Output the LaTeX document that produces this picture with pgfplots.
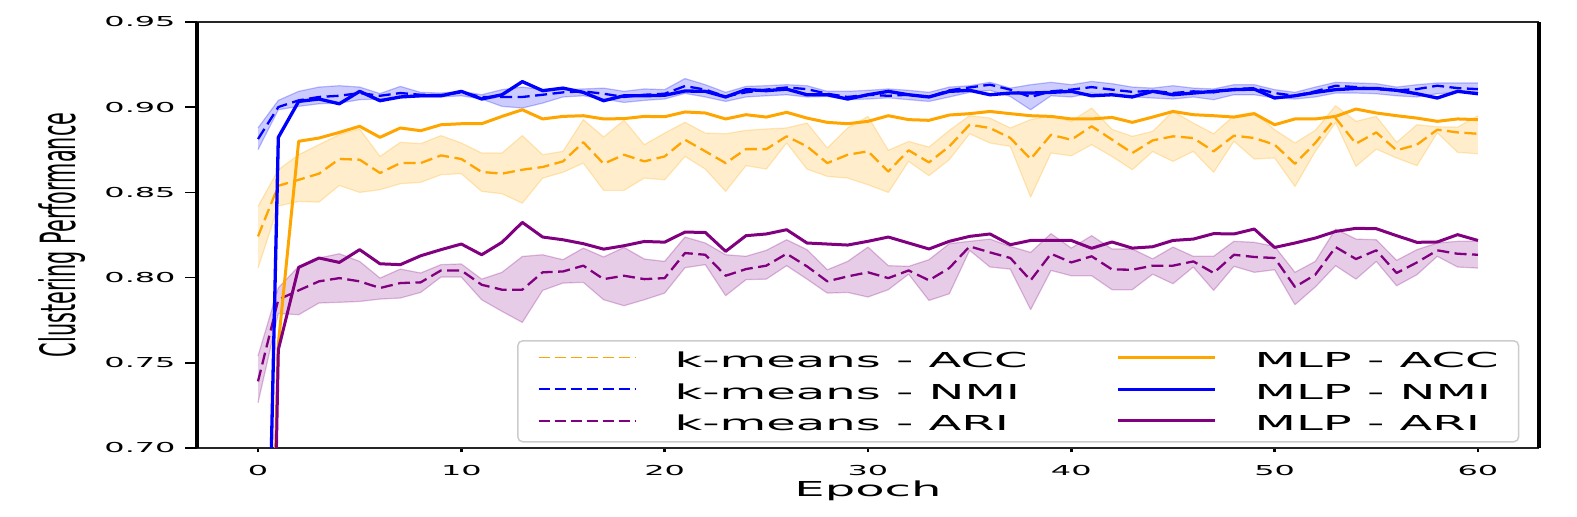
\documentclass[border=0pt]{standalone}
\usepackage{fontspec}
\setmainfont{DejaVu Sans}
\newfontfamily\wfont{DejaVu Sans}[FakeStretch=2.33]
\newfontfamily\ylabfont{DejaVu Sans}[FakeStretch=0.429]
\usepackage{pgfplots}
\usepackage{pgfplotstable}
\pgfplotsset{compat=1.18}
\usepgfplotslibrary{fillbetween}
\definecolor{mplorange}{HTML}{FFA500}
\definecolor{mplblue}{HTML}{0000FF}
\definecolor{mplpurple}{HTML}{800080}

\pgfplotstableread{
e km up lo mlp
0 0.8242 0.8418 0.8056 0.30
1 0.8539 0.8633 0.8420 0.761
2 0.8574 0.8721 0.8447 0.8800
3 0.8610 0.8780 0.8443 0.8819
4 0.8696 0.8839 0.8541 0.8852
5 0.8692 0.8872 0.8500 0.8888
6 0.8614 0.8711 0.8516 0.8823
7 0.8672 0.8794 0.8551 0.8878
8 0.8672 0.8786 0.8559 0.8862
9 0.8717 0.8833 0.8604 0.8897
10 0.8696 0.8790 0.8610 0.8903
11 0.8620 0.8731 0.8506 0.8903
12 0.8610 0.8731 0.8492 0.8946
13 0.8633 0.8833 0.8437 0.8985
14 0.8649 0.8721 0.8584 0.8931
15 0.8682 0.8741 0.8618 0.8946
16 0.8794 0.8927 0.8672 0.8950
17 0.8668 0.8825 0.8512 0.8931
18 0.8721 0.8923 0.8512 0.8933
19 0.8682 0.8780 0.8584 0.8946
20 0.8711 0.8848 0.8574 0.8944
21 0.8809 0.8911 0.8711 0.8972
22 0.8741 0.8848 0.8637 0.8966
23 0.8672 0.8844 0.8506 0.8931
24 0.8754 0.8864 0.8657 0.8956
25 0.8754 0.8872 0.8637 0.8942
26 0.8829 0.8878 0.8790 0.8970
27 0.8770 0.8907 0.8637 0.8936
28 0.8672 0.8760 0.8594 0.8911
29 0.8721 0.8878 0.8584 0.8903
30 0.8741 0.8946 0.8545 0.8917
31 0.8623 0.8747 0.8500 0.8950
32 0.8747 0.8799 0.8682 0.8927
33 0.8676 0.8766 0.8598 0.8923
34 0.8770 0.8864 0.8692 0.8954
35 0.8897 0.8950 0.8844 0.8962
36 0.8878 0.8936 0.8790 0.8975
37 0.8819 0.8878 0.8770 0.8962
38 0.8696 0.8927 0.8473 0.8950
39 0.8838 0.8950 0.8731 0.8946
40 0.8809 0.8917 0.8715 0.8931
41 0.8888 0.8995 0.8780 0.8931
42 0.8810 0.8870 0.8711 0.8940
43 0.8731 0.8829 0.8633 0.8911
44 0.8805 0.8858 0.8740 0.8942
45 0.8829 0.8975 0.8682 0.8975
46 0.8819 0.8907 0.8741 0.8956
47 0.8741 0.8844 0.8618 0.8950
48 0.8833 0.8950 0.8800 0.8942
49 0.8819 0.8970 0.8696 0.8962
50 0.8780 0.8868 0.8702 0.8897
51 0.8668 0.8790 0.8535 0.8931
52 0.8790 0.8864 0.8740 0.8931
53 0.8936 0.9009 0.8910 0.8946
54 0.8786 0.8917 0.8653 0.8989
55 0.8852 0.8946 0.8754 0.8966
56 0.8747 0.8794 0.8702 0.8950
57 0.8780 0.8897 0.8657 0.8936
58 0.8868 0.8885 0.8850 0.8917
59 0.8852 0.8883 0.8735 0.8931
60 0.8844 0.8950 0.8727 0.8927
}\acc

\pgfplotstableread{
e km up lo mlp
0 0.8813 0.8878 0.8751 0.347
1 0.9001 0.9040 0.8985 0.8823
2 0.9040 0.9093 0.9005 0.9034
3 0.9060 0.9118 0.9020 0.9048
4 0.9067 0.9126 0.9024 0.9020
5 0.9083 0.9118 0.9044 0.9093
6 0.9067 0.9080 0.9048 0.9038
7 0.9083 0.9122 0.9060 0.9060
8 0.9073 0.9087 0.9060 0.9067
9 0.9071 0.9083 0.9060 0.9067
10 0.9087 0.9093 0.9067 0.9093
11 0.9060 0.9073 0.9048 0.9048
12 0.9060 0.9103 0.9005 0.9073
13 0.9060 0.9118 0.8995 0.9150
14 0.9073 0.9103 0.9024 0.9097
15 0.9087 0.9103 0.9060 0.9112
16 0.9093 0.9107 0.9067 0.9087
17 0.9079 0.9112 0.9048 0.9038
18 0.9060 0.9093 0.9028 0.9067
19 0.9073 0.9107 0.9040 0.9067
20 0.9079 0.9103 0.9048 0.9070
21 0.9124 0.9168 0.9081 0.9095
22 0.9103 0.9132 0.9060 0.9093
23 0.9063 0.9087 0.9034 0.9060
24 0.9087 0.9122 0.9060 0.9103
25 0.9103 0.9126 0.9067 0.9097
26 0.9116 0.9132 0.9073 0.9106
27 0.9106 0.9126 0.9060 0.9073
28 0.9079 0.9093 0.9063 0.9073
29 0.9060 0.9093 0.9044 0.9048
30 0.9073 0.9099 0.9048 0.9073
31 0.9067 0.9107 0.9055 0.9093
32 0.9073 0.9099 0.9044 0.9073
33 0.9060 0.9087 0.9034 0.9060
34 0.9099 0.9118 0.9060 0.9093
35 0.9116 0.9126 0.9087 0.9099
36 0.9132 0.9146 0.9099 0.9073
37 0.9103 0.9112 0.9063 0.9083
38 0.9060 0.9132 0.8985 0.9083
39 0.9093 0.9146 0.9067 0.9087
40 0.9103 0.9132 0.9060 0.9093
41 0.9118 0.9151 0.9083 0.9067
42 0.9103 0.9138 0.9067 0.9073
43 0.9090 0.9118 0.9060 0.9060
44 0.9096 0.9112 0.9054 0.9093
45 0.9083 0.9126 0.9048 0.9073
46 0.9093 0.9112 0.9060 0.9083
47 0.9087 0.9107 0.9044 0.9093
48 0.9106 0.9132 0.9073 0.9103
49 0.9112 0.9132 0.9073 0.9106
50 0.9083 0.9103 0.9054 0.9054
51 0.9067 0.9087 0.9048 0.9067
52 0.9093 0.9118 0.9060 0.9087
53 0.9126 0.9146 0.9083 0.9103
54 0.9118 0.9142 0.9083 0.9110
55 0.9106 0.9138 0.9079 0.9110
56 0.9099 0.9118 0.9067 0.9099
57 0.9106 0.9132 0.9060 0.9079
58 0.9126 0.9142 0.9079 0.9054
59 0.9112 0.9142 0.9087 0.9093
60 0.9106 0.9142 0.9093 0.9079
}\nmi

\pgfplotstableread{
e km up lo mlp
0 0.7391 0.7540 0.7265 0.15
1 0.7871 0.7940 0.7790 0.7577
2 0.7925 0.8066 0.7782 0.8060
3 0.7978 0.8115 0.7851 0.8115
4 0.7997 0.8140 0.7855 0.8089
5 0.7978 0.8095 0.7860 0.8164
6 0.7939 0.7997 0.7874 0.8081
7 0.7968 0.8050 0.7880 0.8076
8 0.7972 0.8027 0.7913 0.8128
9 0.8042 0.8076 0.8003 0.8164
10 0.8042 0.8080 0.8003 0.8197
11 0.7958 0.7991 0.7870 0.8134
12 0.7929 0.8031 0.7802 0.8207
13 0.7929 0.8124 0.7737 0.8324
14 0.8031 0.8134 0.7925 0.8238
15 0.8036 0.8105 0.7968 0.8222
16 0.8070 0.8173 0.7972 0.8199
17 0.7991 0.8121 0.7870 0.8167
18 0.8011 0.8177 0.7835 0.8187
19 0.7991 0.8109 0.7870 0.8212
20 0.7997 0.8095 0.7909 0.8208
21 0.8144 0.8238 0.8058 0.8267
22 0.8134 0.8203 0.8076 0.8265
23 0.8011 0.8134 0.7894 0.8154
24 0.8050 0.8125 0.7988 0.8246
25 0.8070 0.8160 0.7991 0.8256
26 0.8140 0.8222 0.8070 0.8281
27 0.8066 0.8164 0.7991 0.8203
28 0.7978 0.8046 0.7909 0.8197
29 0.8007 0.8095 0.7913 0.8191
30 0.8031 0.8179 0.7886 0.8213
31 0.7997 0.8070 0.7929 0.8238
32 0.8042 0.8066 0.8020 0.8203
33 0.7984 0.8105 0.7866 0.8168
34 0.8056 0.8199 0.7905 0.8213
35 0.8183 0.8213 0.8160 0.8242
36 0.8148 0.8226 0.8062 0.8256
37 0.8115 0.8183 0.8050 0.8193
38 0.7984 0.8148 0.7812 0.8218
39 0.8140 0.8258 0.8042 0.8218
40 0.8089 0.8173 0.8011 0.8218
41 0.8125 0.8246 0.8011 0.8172
42 0.8048 0.8168 0.7929 0.8209
43 0.8046 0.8168 0.7929 0.8173
44 0.8070 0.8110 0.8020 0.8181
45 0.8070 0.8179 0.7964 0.8218
46 0.8095 0.8125 0.8062 0.8226
47 0.8027 0.8125 0.7925 0.8258
48 0.8134 0.8213 0.8066 0.8256
49 0.8121 0.8207 0.8031 0.8285
50 0.8115 0.8183 0.8046 0.8177
51 0.7945 0.8031 0.7841 0.8203
52 0.8017 0.8095 0.7945 0.8232
53 0.8179 0.8285 0.8070 0.8271
54 0.8109 0.8226 0.7991 0.8289
55 0.8160 0.8222 0.8095 0.8287
56 0.8027 0.8101 0.7952 0.8246
57 0.8089 0.8164 0.8017 0.8207
58 0.8160 0.8203 0.8125 0.8209
59 0.8140 0.8213 0.8062 0.8252
60 0.8134 0.8213 0.8056 0.8218
}\ari

\begin{document}
\begin{tikzpicture}
\path (0,0) rectangle (1577bp,517bp);
\begin{axis}[
  at={(197bp,69bp)}, anchor=south west,
  scale only axis, width=1342bp, height=426bp,
  xmin=-3, xmax=63, ymin=0.70, ymax=0.95,
  xtick={0,10,20,30,40,50,60},
  ytick={0.70,0.75,0.80,0.85,0.90,0.95},
  xtick pos=bottom, ytick pos=left,
  tick align=outside,
  minor tick num=0,
  separate axis lines,
  x axis line style={line width=1.8bp, black!85},
  y axis line style={line width=3.6bp, black},
  xtick style={line width=2.6bp, black, /pgfplots/major tick length=4.5bp},
  ytick style={line width=1.6bp, black, /pgfplots/major tick length=12bp},
  /pgf/number format/assume math mode=true,
  tick label style={font=\wfont\fontsize{13.7bp}{16bp}\selectfont},
  yticklabel style={/pgf/number format/.cd, fixed, fixed zerofill, precision=2, /tikz/.cd, anchor=east, inner sep=0pt, xshift=-17bp},
  xticklabel style={anchor=north, inner sep=0pt, yshift=-12.5bp},
  xlabel={Epoch},
  xlabel style={font=\wfont\fontsize{20.6bp}{24bp}\selectfont, at={(axis description cs:0.5,0)}, anchor=base, yshift=-48bp},
  ylabel={Clustering Performance},
  ylabel style={font=\ylabfont\fontsize{48.5bp}{50bp}\selectfont, at={(axis description cs:-0.0909,0.5)}, anchor=base},
  legend columns=2,
  legend cell align=left,
  legend style={at={(axis description cs:0.2385,0.2535)}, anchor=north west,
    draw={rgb,1:red,0.8;green,0.8;blue,0.8}, line width=1.5bp, rounded corners=5bp,
    fill=white, fill opacity=0.8, text opacity=1,
    inner xsep=20bp, inner ysep=11bp, row sep=16bp,
    font=\wfont\fontsize{20.6bp}{24bp}\selectfont,
    nodes={inner sep=0pt, text height=15.7bp, text depth=0bp},
    /tikz/every odd column/.append style={column sep=38bp},
    /tikz/column 2/.append style={column sep=89bp}},
  legend image code/.code={\draw[#1] (0bp,2.1bp) -- (97bp,2.1bp);},
  every axis plot/.append style={line join=round},
]
% ACC band and k-means mean
\addplot[name path=au, draw=mplorange, draw opacity=0.25, line width=1.2bp, forget plot] table[x=e,y=up]{\acc};
\addplot[name path=al, draw=mplorange, draw opacity=0.25, line width=1.2bp, forget plot] table[x=e,y=lo]{\acc};
\addplot[fill=mplorange, fill opacity=0.2, draw=none, forget plot] fill between[of=au and al];
\addplot[mplorange, line width=2.3bp, dash pattern=on 12bp off 5.5bp, forget plot] table[x=e,y=km]{\acc};
% NMI
\addplot[name path=nu, draw=mplblue, draw opacity=0.25, line width=1.2bp, forget plot] table[x=e,y=up]{\nmi};
\addplot[name path=nl, draw=mplblue, draw opacity=0.25, line width=1.2bp, forget plot] table[x=e,y=lo]{\nmi};
\addplot[fill=mplblue, fill opacity=0.2, draw=none, forget plot] fill between[of=nu and nl];
\addplot[mplblue, line width=2.3bp, dash pattern=on 12bp off 5.5bp, forget plot] table[x=e,y=km]{\nmi};
% ARI
\addplot[name path=ru, draw=mplpurple, draw opacity=0.25, line width=1.2bp, forget plot] table[x=e,y=up]{\ari};
\addplot[name path=rl, draw=mplpurple, draw opacity=0.25, line width=1.2bp, forget plot] table[x=e,y=lo]{\ari};
\addplot[fill=mplpurple, fill opacity=0.2, draw=none, forget plot] fill between[of=ru and rl];
\addplot[mplpurple, line width=2.3bp, dash pattern=on 12bp off 5.5bp, forget plot] table[x=e,y=km]{\ari};
% MLP
\addplot[mplorange, line width=3bp, forget plot] table[x=e,y=mlp]{\acc};
\addplot[mplblue, line width=3.3bp, forget plot] table[x=e,y=mlp]{\nmi};
\addplot[mplpurple, line width=3bp, forget plot] table[x=e,y=mlp]{\ari};
% legend (row-wise order to reproduce column-wise layout)
\addlegendimage{draw=mplorange, line width=1.8bp, dash pattern=on 11bp off 5bp}
\addlegendentry{k-means - ACC}
\addlegendimage{draw=mplorange, line width=3bp}
\addlegendentry{MLP - ACC}
\addlegendimage{draw=mplblue, line width=1.8bp, dash pattern=on 11bp off 5bp}
\addlegendentry{k-means - NMI}
\addlegendimage{draw=mplblue, line width=3bp}
\addlegendentry{MLP - NMI}
\addlegendimage{draw=mplpurple, line width=1.8bp, dash pattern=on 11bp off 5bp}
\addlegendentry{k-means - ARI}
\addlegendimage{draw=mplpurple, line width=3bp}
\addlegendentry{MLP - ARI}
\end{axis}
\end{tikzpicture}
\end{document}
